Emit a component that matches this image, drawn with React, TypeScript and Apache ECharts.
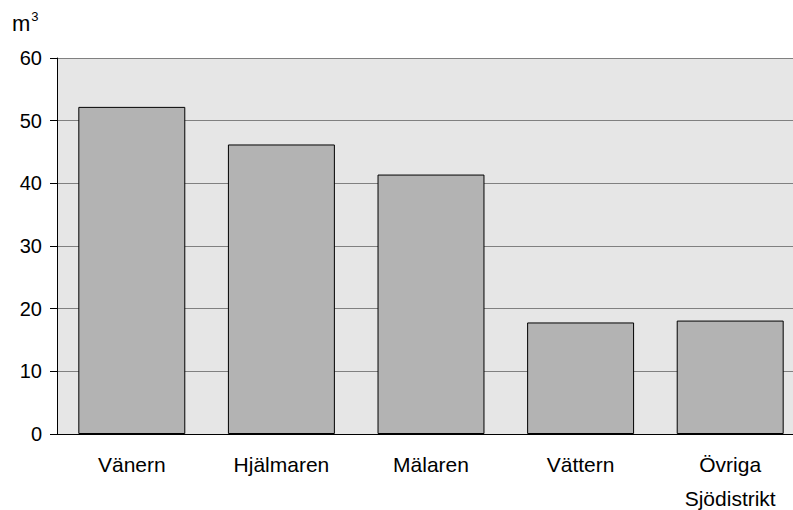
import React, { useEffect, useRef } from "react";
import * as echarts from "echarts";

const categories = ["Vänern", "Hjälmaren", "Mälaren", "Vättern", "Övriga\nSjödistrikt"];
const values = [52.2, 46.2, 41.4, 17.8, 18.1];
const yTicks = [0, 10, 20, 30, 40, 50, 60];

export default function App() {
  const ref = useRef<HTMLDivElement>(null);
  useEffect(() => {
    const chart = echarts.init(ref.current!, undefined, { renderer: "svg" });
    const font = "'Liberation Sans', Arial, sans-serif";
    chart.setOption({
      animation: false,
      backgroundColor: "#ffffff",
      grid: {
        left: 57,
        top: 58,
        right: -12,
        bottom: 76,
        show: true,
        backgroundColor: "#e6e6e6",
        borderWidth: 0,
        containLabel: false,
        outerBoundsMode: "none",
      },
      graphic: [
        {
          type: "text",
          left: 12,
          top: 10,
          style: {
            text: "{m|m}{s|3}",
            rich: {
              m: { fontSize: 22, fontFamily: font, fill: "#000", verticalAlign: "bottom" },
              s: { fontSize: 13, fontFamily: font, fill: "#000", verticalAlign: "top", padding: [0, 0, 11, 1] },
            },
          },
        },
      ],
      xAxis: {
        type: "category",
        data: categories,
        axisLine: { show: true, lineStyle: { color: "#000", width: 1 } },
        axisTick: { show: false },
        axisLabel: {
          color: "#000",
          fontSize: 21,
          fontFamily: font,
          margin: 13,
          lineHeight: 34,
          interval: 0,
        },
      },
      yAxis: {
        type: "value",
        min: yTicks[0],
        max: yTicks[yTicks.length - 1],
        interval: 10,
        axisLine: { show: true, lineStyle: { color: "#000", width: 1 } },
        axisTick: { show: true, length: 7, lineStyle: { color: "#000" } },
        axisLabel: { color: "#000", fontSize: 20, fontFamily: font, margin: 15 },
        splitLine: { show: true, lineStyle: { color: "#808080", width: 1 } },
      },
      series: [
        {
          type: "bar",
          data: values,
          barWidth: "71.5%",
          itemStyle: { color: "#b3b3b3", borderColor: "#000", borderWidth: 1 },
        },
      ],
    });
    return () => chart.dispose();
  }, []);
  return (
    <div
      ref={ref}
      style={{ position: "absolute", left: 0, top: 0, width: 793, height: 510 }}
    />
  );
}
